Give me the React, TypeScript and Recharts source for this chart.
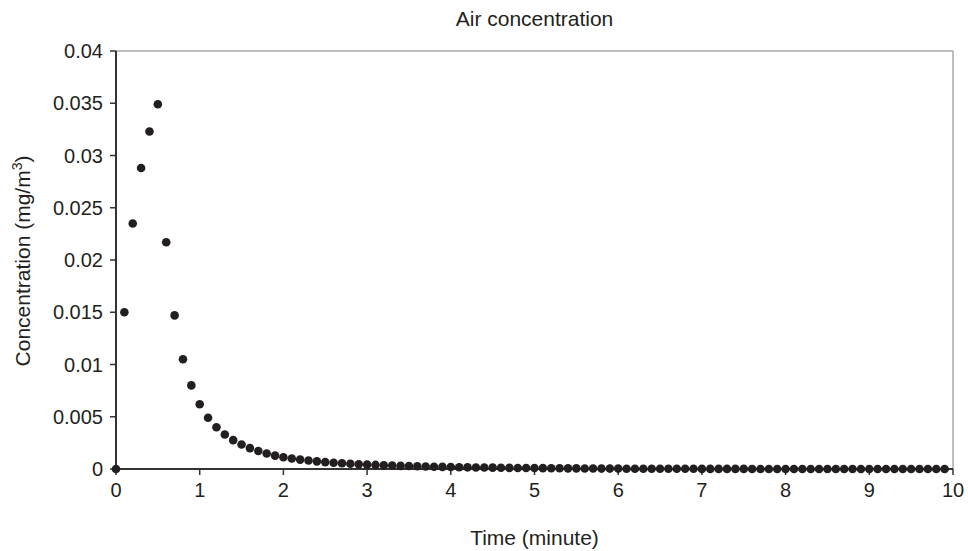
import { ReferenceLine, Scatter, ScatterChart, XAxis, YAxis } from 'recharts'

const TIMES = [
  0, 0.1, 0.2, 0.3, 0.4, 0.5, 0.6, 0.7, 0.8, 0.9,
  1, 1.1, 1.2, 1.3, 1.4, 1.5, 1.6, 1.7, 1.8, 1.9,
  2, 2.1, 2.2, 2.3, 2.4, 2.5, 2.6, 2.7, 2.8, 2.9,
  3, 3.1, 3.2, 3.3, 3.4, 3.5, 3.6, 3.7, 3.8, 3.9,
  4, 4.1, 4.2, 4.3, 4.4, 4.5, 4.6, 4.7, 4.8, 4.9,
  5, 5.1, 5.2, 5.3, 5.4, 5.5, 5.6, 5.7, 5.8, 5.9,
  6, 6.1, 6.2, 6.3, 6.4, 6.5, 6.6, 6.7, 6.8, 6.9,
  7, 7.1, 7.2, 7.3, 7.4, 7.5, 7.6, 7.7, 7.8, 7.9,
  8, 8.1, 8.2, 8.3, 8.4, 8.5, 8.6, 8.7, 8.8, 8.9,
  9, 9.1, 9.2, 9.3, 9.4, 9.5, 9.6, 9.7, 9.8, 9.9,
]

const CONCENTRATION = [
  0, 0.015, 0.0235, 0.0288, 0.0323, 0.0349, 0.0217, 0.0147, 0.0105, 0.008,
  0.0062, 0.0049, 0.004, 0.0033, 0.00276, 0.00234, 0.002, 0.00172, 0.00148, 0.00128,
  0.00112, 0.001, 0.0009, 0.00081, 0.00073, 0.00066, 0.0006, 0.00055, 0.0005, 0.00046,
  0.00042, 0.00039, 0.00036, 0.00033, 0.0003, 0.00028, 0.00026, 0.00024, 0.00022, 0.0002,
  0.00019, 0.00017, 0.00016, 0.00015, 0.00014, 0.00013, 0.00012, 0.00011, 0.0001, 0.00009,
  0.00009, 0.00008, 0.00007, 0.00007, 0.00006, 0.00006, 0.00005, 0.00005, 0.00004, 0.00004,
  0.00004, 0.00003, 0.00003, 0.00003, 0.00003, 0.00002, 0.00002, 0.00002, 0.00002, 0.00002,
  0.00001, 0.00001, 0.00001, 0.00001, 0.00001, 0.00001, 0, 0, 0, 0,
  0, 0, 0, 0, 0, 0, 0, 0, 0, 0,
  0, 0, 0, 0, 0, 0, 0, 0, 0, 0,
]

const X_TICKS = [0, 1, 2, 3, 4, 5, 6, 7, 8, 9, 10]
const Y_TICKS = [0, 0.005, 0.01, 0.015, 0.02, 0.025, 0.03, 0.035, 0.04]
const Y_TICK_LABELS = ['0', '0.005', '0.01', '0.015', '0.02', '0.025', '0.03', '0.035', '0.04']

const FONT = "'Liberation Sans', Arial, Helvetica, sans-serif"
const INK = '#231f20'
const AXIS_COLOR = '#333333'
const TICK_STYLE = { fontSize: 20, fontFamily: FONT, fill: INK }

const data = TIMES.map((t, i) => ({ t, c: CONCENTRATION[i] }))

const Dot = (props: any) => <circle cx={props.cx} cy={props.cy} r={4.3} fill={INK} />

export default function App() {
  return (
    <div style={{ position: 'relative', width: 968, height: 551, fontFamily: FONT, background: '#fff' }}>
      <style>{'body{margin:0}'}</style>
      <div
        style={{
          position: 'absolute',
          left: 116,
          width: 837,
          top: 7,
          textAlign: 'center',
          fontSize: 21,
          color: INK,
        }}
      >
        Air concentration
      </div>
      <div
        style={{
          position: 'absolute',
          left: 116,
          width: 837,
          top: 526,
          textAlign: 'center',
          fontSize: 21,
          color: INK,
        }}
      >
        Time (minute)
      </div>
      <ScatterChart width={968} height={551} margin={{ top: 51, right: 15, bottom: 0, left: 0 }}>
        <XAxis
          type="number"
          dataKey="t"
          domain={[0, 10]}
          ticks={X_TICKS}
          interval={0}
          height={82}
          tick={TICK_STYLE}
          tickSize={6}
          tickMargin={8}
          axisLine={{ stroke: AXIS_COLOR, strokeWidth: 2 }}
          tickLine={{ stroke: AXIS_COLOR, strokeWidth: 1.5 }}
        />
        <YAxis
          type="number"
          dataKey="c"
          domain={[0, 0.04]}
          ticks={Y_TICKS}
          interval={0}
          width={116}
          tick={TICK_STYLE}
          tickSize={6}
          tickMargin={7}
          tickFormatter={(v: number) => Y_TICK_LABELS[Y_TICKS.indexOf(v)] ?? String(v)}
          axisLine={{ stroke: AXIS_COLOR, strokeWidth: 2 }}
          tickLine={{ stroke: AXIS_COLOR, strokeWidth: 1.5 }}
          label={{
            content: () => (
              <text
                x={30}
                y={261}
                transform="rotate(-90 30 261)"
                textAnchor="middle"
                fontSize={21}
                fontFamily={FONT}
                fill={INK}
              >
                Concentration (mg/m
                <tspan dy={-8} fontSize={14}>
                  3
                </tspan>
                <tspan dy={8}>)</tspan>
              </text>
            ),
          }}
        />
        <ReferenceLine y={0.04} stroke="#a7a9ac" strokeWidth={1.5} />
        <ReferenceLine x={10} stroke="#a7a9ac" strokeWidth={1.5} />
        <Scatter data={data} shape={Dot} isAnimationActive={false} />
      </ScatterChart>
    </div>
  )
}
